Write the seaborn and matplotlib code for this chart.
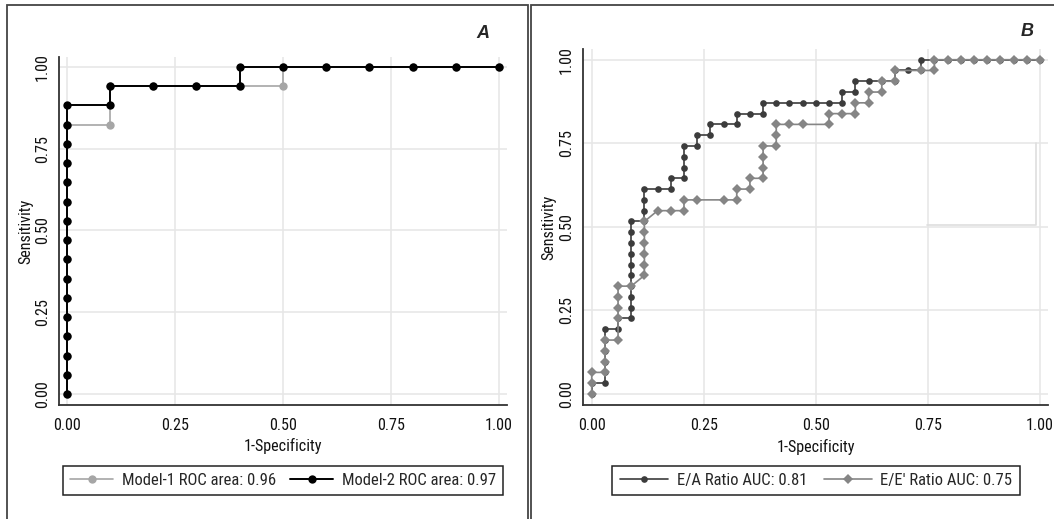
import os
import matplotlib
matplotlib.use('Agg')
from matplotlib import pyplot as plt
from matplotlib import font_manager as fm
from matplotlib.lines import Line2D
from matplotlib.patches import Rectangle
import seaborn as sns
import pandas as pd

# panel A: counts (10 negatives, 17 positives)
a_n_neg = 10
a_n_pos = 17
m1_fp = [0, 0, 0, 0, 0, 0, 0, 0, 0, 0, 0, 0, 0, 0, 0, 1, 1, 2, 3, 4, 5, 5, 6, 7, 8, 9, 10]
m1_tp = [0, 1, 2, 3, 4, 5, 6, 7, 8, 9, 10, 11, 12, 13, 14, 14, 16, 16, 16, 16, 16, 17, 17, 17, 17, 17, 17]
m2_fp = [0, 0, 0, 0, 0, 0, 0, 0, 0, 0, 0, 0, 0, 0, 0, 0, 1, 1, 2, 3, 4, 4, 5, 6, 7, 8, 9, 10]
m2_tp = [0, 1, 2, 3, 4, 5, 6, 7, 8, 9, 10, 11, 12, 13, 14, 15, 15, 16, 16, 16, 16, 17, 17, 17, 17, 17, 17, 17]
a_labels = ['Model-1 ROC area: 0.96', 'Model-2 ROC area: 0.97']

# panel B: 34 negatives, 31 positives
b_n_neg = 34
b_n_pos = 31
ea_fp = [0, 0, 1, 1, 1, 1, 1, 1, 2, 2, 3, 3, 3, 3, 3, 3, 3, 3, 3, 3, 4, 4, 4, 4, 5, 6, 6, 7, 7, 7, 7,
         8, 8, 9, 9, 10, 11, 11, 12, 13, 13, 14, 15, 16, 17, 18, 19, 19, 20, 20, 21, 22, 23, 23, 24, 25,
         25, 26, 27, 28, 29, 30, 31, 32, 33, 34]
ea_tp = [0, 1, 1, 2, 3, 4, 5, 6, 6, 7, 7, 8, 9, 10, 11, 12, 13, 14, 15, 16, 16, 17, 18, 19, 19, 19, 20, 20, 21, 22, 23,
         23, 24, 24, 25, 25, 25, 26, 26, 26, 27, 27, 27, 27, 27, 27, 27, 28, 28, 29, 29, 29, 29, 30, 30, 30,
         31, 31, 31, 31, 31, 31, 31, 31, 31, 31]
ee_fp = [0, 0, 0, 1, 1, 1, 1, 2, 2, 2, 2, 2, 3, 4, 4, 4, 4, 4, 4, 5, 6, 7, 7, 8, 10, 11, 11, 12, 12, 13,
         13, 13, 13, 14, 14, 14, 15, 16, 18, 18, 19, 20, 20, 21, 21, 22, 22, 23, 23, 25, 26, 26,
         27, 28, 29, 30, 31, 32, 33, 34]
ee_tp = [0, 1, 2, 2, 3, 4, 5, 5, 7, 8, 9, 10, 10, 11, 12, 13, 14, 15, 16, 17, 17, 17, 18, 18, 18, 18, 19, 19, 20, 20,
         21, 22, 23, 23, 24, 25, 25, 25, 25, 26, 26, 26, 27, 27, 28, 28, 29, 29, 30, 30, 30, 31,
         31, 31, 31, 31, 31, 31, 31, 31]
b_labels = ['E/A Ratio AUC: 0.81', "E/E' Ratio AUC: 0.75"]

ticks = [0, 0.25, 0.5, 0.75, 1.0]
tick_labels = ['0.00', '0.25', '0.50', '0.75', '1.00']

W, H = 1054, 519


def PickFont():
    # look for a narrow sans face, otherwise fall back to a smaller normal one
    wanted = [('LiberationSansNarrow-Regular', 1.0), ('ArialNarrow', 1.0), ('RobotoCondensed-Regular', 0.95),
              ('DejaVuSansCondensed', 0.86), ('LiberationSans-Regular', 0.88)]
    files = fm.findSystemFonts()
    for key, scale in wanted:
        for f in files:
            if os.path.splitext(os.path.basename(f))[0] == key:
                return f, scale
    return None, 0.85


FONT_FILE, FSCALE = PickFont()


def FP(size):
    if FONT_FILE:
        return fm.FontProperties(fname=FONT_FILE, size=size * FSCALE)
    return fm.FontProperties(family='DejaVu Sans', size=size * FSCALE)


def MakeFrame(xy, n_neg, n_pos):
    fp, tp = xy
    return pd.DataFrame({'fpr': [v / n_neg for v in fp], 'tpr': [v / n_pos for v in tp]})


def PxAxes(fig, left, top, right, bottom):
    return fig.add_axes([left / W, 1 - bottom / H, (right - left) / W, (bottom - top) / H])


def StyleAxes(axe, xlim, ylim):
    axe.set_xlim(*xlim)
    axe.set_ylim(*ylim)
    axe.set_xticks(ticks)
    axe.set_xticklabels(tick_labels)
    axe.set_yticks(ticks)
    axe.set_yticklabels(tick_labels, rotation=90, va='center')
    axe.grid(True, color='#e6e6e6', linewidth=1.1)
    axe.set_axisbelow(True)
    for s in ['top', 'right']:
        axe.spines[s].set_visible(False)
    for s in ['left', 'bottom']:
        axe.spines[s].set_color('#333333')
        axe.spines[s].set_linewidth(1.3)
    axe.tick_params(direction='out', length=4, width=1, color='#333333', labelcolor='#111111')
    axe.tick_params(axis='x', pad=5)
    axe.tick_params(axis='y', pad=2.5)
    for t in axe.get_xticklabels() + axe.get_yticklabels():
        t.set_fontproperties(FP(12.2))
    axe.set_xlabel('1-Specificity', fontproperties=FP(12.2), color='#111111')
    axe.set_ylabel('Sensitivity', fontproperties=FP(12.2), color='#111111')
    axe.xaxis.set_label_coords(0.5, -0.095)
    axe.yaxis.set_label_coords(-0.057, 0.5)


def PlotAll(out):
    sns.set_style('white')
    fig = plt.figure(figsize=(W / 100, H / 100), dpi=100)

    # panel borders
    fig.patches.append(Rectangle((7 / W, -0.05), 521 / W, 1 - 5 / H + 0.05, transform=fig.transFigure,
                                 fill=False, edgecolor='#444444', linewidth=1.3))
    fig.patches.append(Rectangle((531 / W, -0.05), 530 / W, 1 - 5 / H + 0.05, transform=fig.transFigure,
                                 fill=False, edgecolor='#444444', linewidth=1.3))

    # panel A
    axa = PxAxes(fig, 59, 57, 507, 405)
    d1 = MakeFrame((m1_fp, m1_tp), a_n_neg, a_n_pos)
    d2 = MakeFrame((m2_fp, m2_tp), a_n_neg, a_n_pos)
    sns.lineplot(data=d1, x='fpr', y='tpr', sort=False, estimator=None, color='#a6a6a6',
                 marker='o', markersize=6, markeredgewidth=0, linewidth=1.2, ax=axa, zorder=3)
    sns.lineplot(data=d2, x='fpr', y='tpr', sort=False, estimator=None, color='#000000',
                 marker='o', markersize=6, markeredgewidth=0, linewidth=1.4, ax=axa, zorder=4)
    StyleAxes(axa, (-0.0178, 1.0185), (-0.0327, 1.0296))
    fig.text(483 / W, 1 - 34 / H, 'A', ha='center', va='center', size=13, weight='bold',
             style='italic', family=['Liberation Sans', 'DejaVu Sans'])
    ha = [Line2D([], [], color='#a6a6a6', marker='o', markersize=6, markeredgewidth=0, linewidth=1.2),
          Line2D([], [], color='#000000', marker='o', markersize=6, markeredgewidth=0, linewidth=1.4)]
    leg = axa.legend(ha, a_labels, ncol=2, loc='center',
                     bbox_to_anchor=(283 / W, 1 - 480.5 / H), bbox_transform=fig.transFigure,
                     frameon=True, fancybox=False, edgecolor='#222222', framealpha=1,
                     handlelength=2.6, handletextpad=0.5, columnspacing=0.85, borderpad=0.45,
                     borderaxespad=0, prop=FP(12.6))
    leg.get_frame().set_linewidth(1.1)

    # panel B
    axb = PxAxes(fig, 583, 49, 1048, 405)
    d3 = MakeFrame((ea_fp, ea_tp), b_n_neg, b_n_pos)
    d4 = MakeFrame((ee_fp, ee_tp), b_n_neg, b_n_pos)
    sns.lineplot(data=d3, x='fpr', y='tpr', sort=False, estimator=None, color='#3c3c3c',
                 marker='o', markersize=4.8, markeredgewidth=0, linewidth=1.2, ax=axb, zorder=3)
    sns.lineplot(data=d4, x='fpr', y='tpr', sort=False, estimator=None, color='#858585',
                 marker='D', markersize=5.0, markeredgewidth=0, linewidth=1.2, ax=axb, zorder=4)
    # faint box left in the original figure
    axb.plot([0.748, 0.992, 0.992], [0.505, 0.505, 0.75], color='#dedede', linewidth=1.2, zorder=1)
    StyleAxes(axb, (-0.0194, 1.0179), (-0.033, 1.032))
    fig.text(1027 / W, 1 - 31 / H, 'B', ha='center', va='center', size=13, weight='bold',
             style='italic', family=['Liberation Sans', 'DejaVu Sans'])
    hb = [Line2D([], [], color='#3c3c3c', marker='o', markersize=4.8, markeredgewidth=0, linewidth=1.2),
          Line2D([], [], color='#858585', marker='D', markersize=5.0, markeredgewidth=0, linewidth=1.2)]
    leg = axb.legend(hb, b_labels, ncol=2, loc='center',
                     bbox_to_anchor=(816 / W, 1 - 480.5 / H), bbox_transform=fig.transFigure,
                     frameon=True, fancybox=False, edgecolor='#222222', framealpha=1,
                     handlelength=2.9, handletextpad=0.5, columnspacing=1.0, borderpad=0.45,
                     borderaxespad=0, prop=FP(12.6))
    leg.get_frame().set_linewidth(1.1)

    plt.savefig(out, dpi=100)


def main():
    PlotAll('out.png')


if __name__ == '__main__':
    main()
